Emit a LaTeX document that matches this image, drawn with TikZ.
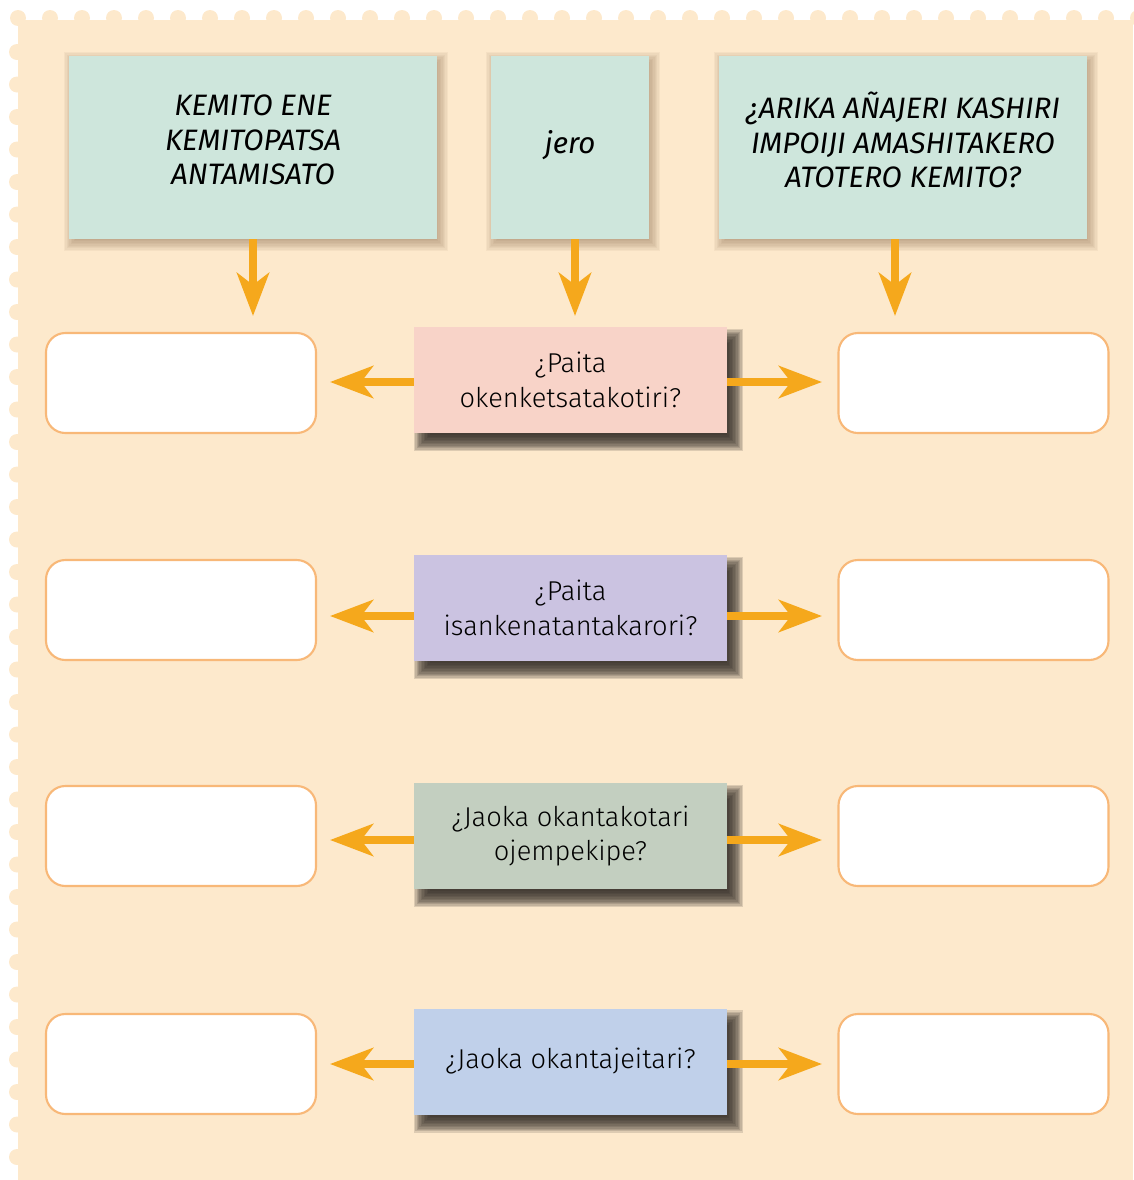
\documentclass[tikz,border=0pt]{standalone}
\usepackage{fontspec}
\setmainfont{Fira Sans}
\newfontfamily\lightfont{Fira Sans Light}
\usetikzlibrary{arrows.meta}
\definecolor{cream}{HTML}{FDE9CC}
\definecolor{mint}{HTML}{CEE6DC}
\definecolor{pinkq}{HTML}{F8D3C8}
\definecolor{lilac}{HTML}{CBC3E1}
\definecolor{sage}{HTML}{C3CFC0}
\definecolor{skyq}{HTML}{C0D0EA}
\definecolor{arr}{HTML}{F5A81C}
\definecolor{edge}{HTML}{F8B878}
\definecolor{umber}{HTML}{6B4A2A}
\definecolor{soot}{HTML}{2A2520}
\pgfdeclarelayer{shade}
\pgfsetlayers{shade,main}
\tikzset{
  headbox/.style={fill=mint, minimum height=183*0.02cm, align=center,
    font=\fontsize{16.8}{19.8}\selectfont\itshape},
  qbox/.style={minimum width=313*0.02cm, minimum height=106*0.02cm, align=center,
    font=\lightfont\fontsize{15.5}{19.8}\selectfont},
  answer/.style={draw=edge, line width=1.2pt, fill=white, rounded corners=11pt,
    minimum width=270*0.02cm, minimum height=100*0.02cm},
  flow/.style={draw=arr, line width=4.5pt,
    -{Stealth[length=0.86cm, width=0.64cm, inset=0.24cm]}},
}
% soft drop shadow behind a named node: #1 node, #2 dx, #3 dy (px), #4 colour, #5 opacity per layer, #6 blur (px)
\newcommand\softshade[6]{%
  \begin{pgfonlayer}{shade}
  \foreach \s in {0,...,11} {
    \pgfmathsetmacro\ins{#6*(\s/11-0.5)}
    \fill[#4, opacity=#5]
      ([shift={(#2+\ins,#3+\ins)}]#1.north west) rectangle
      ([shift={(#2-\ins,#3-\ins)}]#1.south east);
  }
  \end{pgfonlayer}}
\begin{document}
\begin{tikzpicture}[x=0.02cm, y=-0.02cm]
\useasboundingbox (0,0) rectangle (1133,1180);
% scalloped sheet
\begin{pgfonlayer}{shade}
\fill[cream] (18,20) rectangle (1133,1180);
\foreach \i in {0,...,35} \fill[cream] (18+32*\i,18) circle (8);
\foreach \j in {0,...,35} \fill[cream] (17,52+32.5*\j) circle (8);
\end{pgfonlayer}

% header boxes
\node[headbox, minimum width=368*0.02cm] (h1) at (253,147.5) {};
\node[headbox, minimum width=158*0.02cm] (h2) at (570,147.5) {};
\node[headbox, minimum width=368*0.02cm] (h3) at (903,147.5) {};
\node[headbox, fill=none] (t1) at (253,140) {KEMITO ENE\\KEMITOPATSA\\ANTAMISATO};
\node[headbox, fill=none] (t2) at (570,145) {jero};
\node[headbox, fill=none] (t3) at (903,140) {¿ARIKA AÑAJERI KASHIRI\\IMPOIJI AMASHITAKERO\\ATOTERO KEMITO?};
\softshade{h1}{3}{4}{umber}{0.05}{16}
\softshade{h2}{3}{4}{umber}{0.05}{16}
\softshade{h3}{3}{4}{umber}{0.05}{16}

% question boxes
\node[qbox, fill=pinkq] (q1) at (570.5,380) {¿Paita\\okenketsatakotiri?};
\node[qbox, fill=lilac] (q2) at (570.5,608) {¿Paita\\isankenatantakarori?};
\node[qbox, fill=sage] (q3) at (570.5,836) {¿Jaoka okantakotari\\ojempekipe?};
\node[qbox, fill=skyq] (q4) at (570.5,1061.5) {¿Jaoka okantajeitari?};
\foreach \k in {1,...,4} {\softshade{q\k}{8}{10}{soot}{0.15}{16}}

% answer boxes
\foreach \k/\y in {1/383, 2/610, 3/836, 4/1064} {
  \node[answer] (l\k) at (181,\y) {};
  \node[answer] (r\k) at (973.5,\y) {};
}

% down arrows
\coordinate (d1) at (253,316);
\coordinate (d2) at (575,316);
\coordinate (d3) at (895,316);
\draw[flow] (h1.south -| d1) -- (d1);
\draw[flow] (h2.south -| d2) -- (d2);
\draw[flow] (h3.south -| d3) -- (d3);

% side arrows
\foreach \k/\y in {1/382, 2/616, 3/840, 4/1064} {
  \coordinate (al\k) at (330,\y);
  \coordinate (ar\k) at (822,\y);
  \draw[flow] (q\k.west |- al\k) -- (al\k);
  \draw[flow] (q\k.east |- ar\k) -- (ar\k);
}
\end{tikzpicture}
\end{document}
